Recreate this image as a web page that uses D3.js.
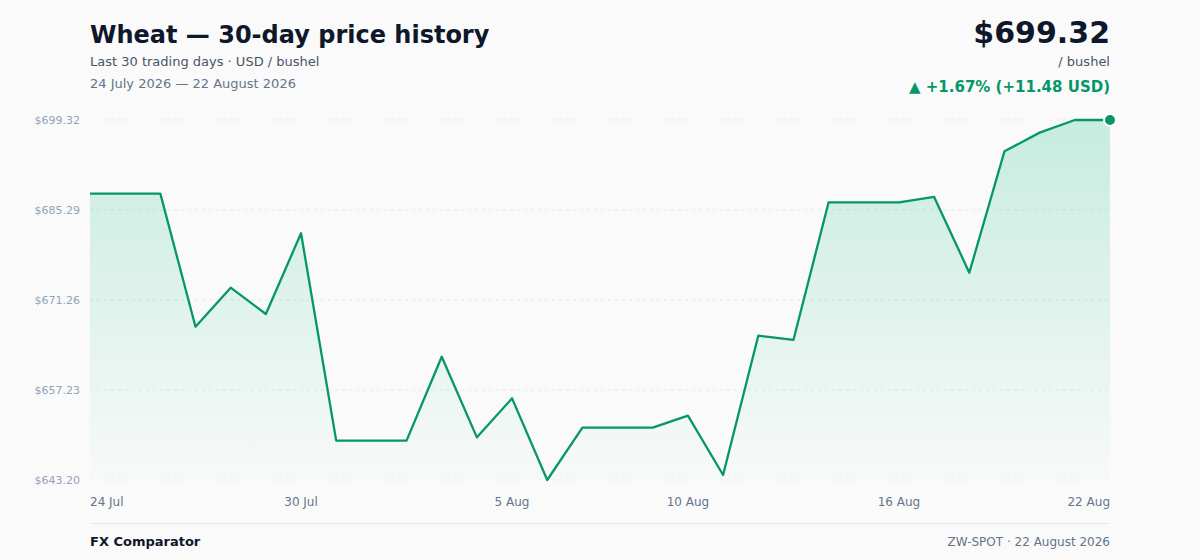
<!DOCTYPE html>
<meta charset="utf-8">
<style>
  body { margin: 0; background: #fafafa; }
  svg { display: block; }
  text { font-family: 'DejaVu Sans', sans-serif; }
</style>
<script src="https://d3js.org/d3.v7.min.js"></script>
<svg width="1200" height="560"></svg>
<script>
  // 30 daily closes, 24 Jul – 22 Aug 2026
  var startDate = new Date(2026, 6, 24);
  var prices = [687.84, 687.84, 687.84, 667.10, 673.18, 669.08, 681.66, 649.33, 649.33, 649.33,
                662.42, 649.85, 655.93, 643.20, 651.36, 651.36, 651.36, 653.23, 643.98, 665.70,
                665.03, 686.49, 686.49, 686.49, 687.32, 675.52, 694.44, 697.35, 699.32, 699.32];
  var xTickIdx = [0, 6, 12, 17, 23, 29];

  var dates = prices.map(function(p, i) { return d3.timeDay.offset(startDate, i); });
  var data = prices.map(function(p, i) { return { date: dates[i], value: p }; });

  var svg = d3.select("svg"),
      plotL = 90, plotR = 1110, plotT = 120, plotB = 480;

  var x = d3.scaleTime().domain([dates[0], dates[dates.length - 1]]).range([plotL, plotR]);
  var lo = d3.min(prices), hi = d3.max(prices);
  var y = d3.scaleLinear().domain([lo, hi]).range([plotB, plotT]);
  var yTicks = d3.range(5).map(function(i) { return lo + (hi - lo) * i / 4; });

  var defs = svg.append("defs");
  var grad = defs.append("linearGradient").attr("id", "fill")
    .attr("x1", 0).attr("y1", 0).attr("x2", 0).attr("y2", 1);
  grad.append("stop").attr("offset", "0%").attr("stop-color", "#10b981").attr("stop-opacity", 0.22);
  grad.append("stop").attr("offset", "100%").attr("stop-color", "#10b981").attr("stop-opacity", 0.01);

  // header
  svg.append("text").attr("x", 90).attr("y", 43).attr("font-size", 24).attr("font-weight", "bold")
    .attr("fill", "#0f172a").text("Wheat — 30-day price history");
  svg.append("text").attr("x", 90).attr("y", 66).attr("font-size", 13)
    .attr("fill", "#475569").text("Last 30 trading days · USD / bushel");
  svg.append("text").attr("x", 90).attr("y", 88).attr("font-size", 13)
    .attr("fill", "#64748b").text("24 July 2026 — 22 August 2026");

  var last = prices[prices.length - 1], first = prices[0];
  var chg = last - first, pct = chg / first * 100;
  svg.append("text").attr("x", 1110).attr("y", 43).attr("text-anchor", "end").attr("font-size", 30)
    .attr("font-weight", "bold").attr("fill", "#0f172a").text("$" + last.toFixed(2));
  svg.append("text").attr("x", 1110).attr("y", 66).attr("text-anchor", "end").attr("font-size", 13)
    .attr("fill", "#475569").text("/ bushel");
  svg.append("text").attr("x", 1110).attr("y", 92).attr("text-anchor", "end").attr("font-size", 15)
    .attr("font-weight", "bold").attr("fill", "#059669")
    .text("▲ +" + pct.toFixed(2) + "% (+" + chg.toFixed(2) + " USD)");

  // grid + y labels
  svg.append("g").selectAll("line").data(yTicks).enter().append("line")
    .attr("x1", plotL).attr("x2", plotR)
    .attr("y1", function(d) { return y(d); }).attr("y2", function(d) { return y(d); })
    .attr("stroke", "#e5e7eb").attr("stroke-dasharray", "3,4");
  svg.append("g").selectAll("text").data(yTicks).enter().append("text")
    .attr("x", 80).attr("y", function(d) { return y(d) + 4; })
    .attr("text-anchor", "end").attr("font-size", 11).attr("fill", "#94a3b8")
    .text(function(d) { return "$" + d.toFixed(2); });

  // area + line
  svg.append("path").datum(data)
    .attr("fill", "url(#fill)")
    .attr("d", d3.area().x(function(d) { return x(d.date); })
      .y0(plotB).y1(function(d) { return y(d.value); }));
  svg.append("path").datum(data)
    .attr("fill", "none").attr("stroke", "#059669").attr("stroke-width", 2.3)
    .attr("stroke-linejoin", "round")
    .attr("d", d3.line().x(function(d) { return x(d.date); }).y(function(d) { return y(d.value); }));
  svg.append("circle").attr("cx", x(dates[dates.length - 1])).attr("cy", y(last)).attr("r", 6)
    .attr("fill", "#059669").attr("stroke", "#fff").attr("stroke-width", 2);

  // x labels
  var fmt = d3.timeFormat("%-d %b");
  svg.append("g").selectAll("text").data(xTickIdx).enter().append("text")
    .attr("x", function(i) { return x(dates[i]); }).attr("y", 506)
    .attr("text-anchor", function(i) { return i === 0 ? "start" : i === dates.length - 1 ? "end" : "middle"; })
    .attr("font-size", 12).attr("fill", "#64748b")
    .text(function(i) { return fmt(dates[i]); });

  // footer
  svg.append("line").attr("x1", 90).attr("x2", 1110).attr("y1", 523.5).attr("y2", 523.5)
    .attr("stroke", "#e5e7eb");
  svg.append("text").attr("x", 90).attr("y", 546).attr("font-size", 13).attr("font-weight", "bold")
    .attr("fill", "#0f172a").text("FX Comparator");
  svg.append("text").attr("x", 1110).attr("y", 546).attr("text-anchor", "end").attr("font-size", 12)
    .attr("fill", "#64748b").text("ZW-SPOT · 22 August 2026");
</script>
